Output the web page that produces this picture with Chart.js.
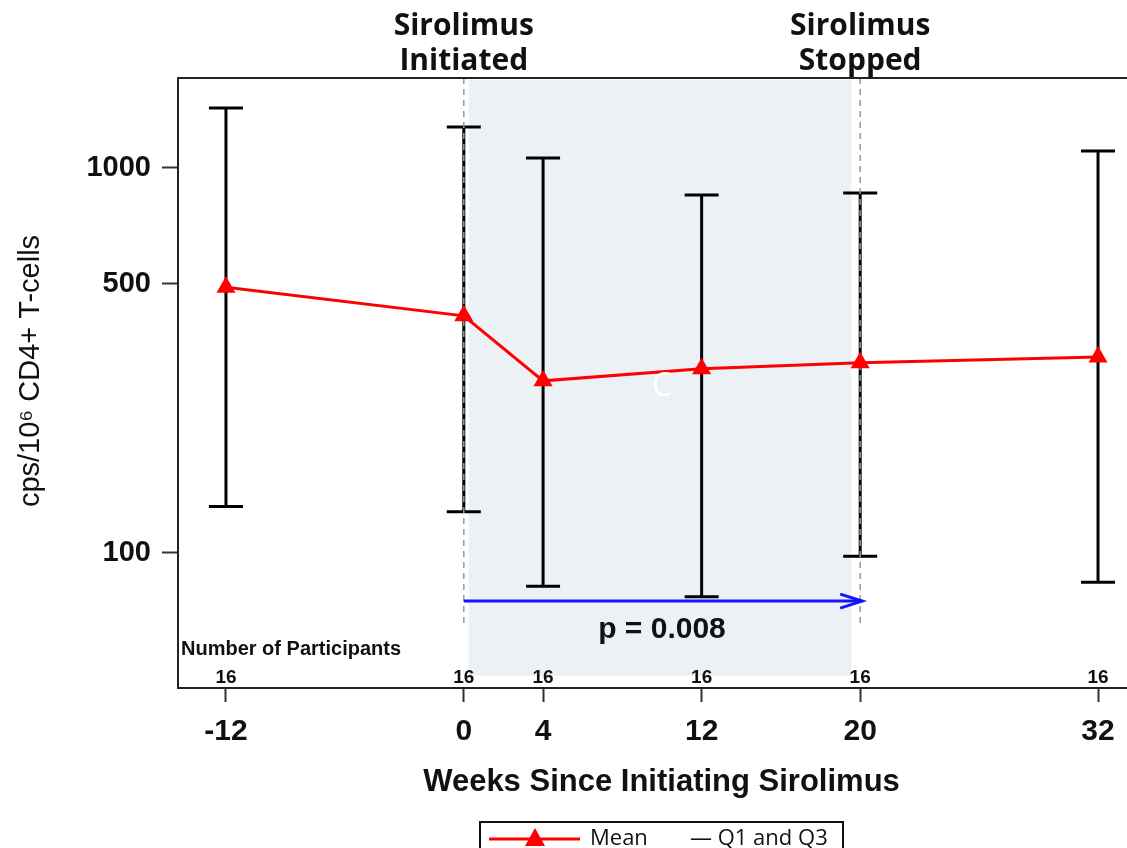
<!DOCTYPE html>
<html>
<head>
<meta charset="utf-8">
<script src="https://cdn.jsdelivr.net/npm/chart.js@4/dist/chart.umd.min.js"></script>
<style>
  html, body { margin: 0; padding: 0; overflow: hidden; background: #fff; }
  canvas { display: block; }
</style>
</head>
<body>
<canvas id="myChart" width="1145" height="848"></canvas>
<script>
// weeks since initiating sirolimus
var weeks = [-12, 0, 4, 12, 20, 32];
var meanValues = [490, 413, 280, 301, 312, 323];
var q1Values = [132, 128, 82, 77, 98, 84];
var q3Values = [1432, 1277, 1061, 851, 861, 1107];
var participants = [16, 16, 16, 16, 16, 16];
var yTickValues = [100, 500, 1000];
var xTickValues = [-12, 0, 4, 12, 20, 32];

var startWeek = 0, stopWeek = 20;
var pLabel = 'p = 0.008';

var arial = "'Liberation Sans', Arial, sans-serif";
var sans = "'Open Sans', 'Noto Sans', sans-serif";
var ink = '#111';

var extras = {
  id: 'extras',
  beforeDatasetsDraw: function(chart) {
    var c = chart.ctx, x = chart.scales.x, y = chart.scales.y, a = chart.chartArea;
    c.save();
    // treatment period shading
    c.fillStyle = '#ecf1f6';
    var x0 = x.getPixelForValue(startWeek + 0.25), x1 = x.getPixelForValue(stopWeek - 0.45);
    c.fillRect(x0, a.top + 2, x1 - x0, y.getPixelForValue(48) - a.top - 2);
    // Q1 / Q3 bars
    c.strokeStyle = '#000';
    c.lineWidth = 3;
    for (var i = 0; i < weeks.length; i++) {
      var px = x.getPixelForValue(weeks[i]);
      var top = y.getPixelForValue(q3Values[i]), bot = y.getPixelForValue(q1Values[i]);
      c.beginPath();
      c.moveTo(px, top); c.lineTo(px, bot);
      c.moveTo(px - 17, top); c.lineTo(px + 17, top);
      c.moveTo(px - 17, bot); c.lineTo(px + 17, bot);
      c.stroke();
    }
    // dashed markers
    c.strokeStyle = '#999';
    c.lineWidth = 1.5;
    c.setLineDash([6, 5]);
    [startWeek, stopWeek].forEach(function(w) {
      var px = x.getPixelForValue(w);
      c.beginPath();
      c.moveTo(px, a.top);
      c.lineTo(px, y.getPixelForValue(64));
      c.stroke();
    });
    c.setLineDash([]);
    c.restore();
  },
  afterDatasetsDraw: function(chart) {
    var c = chart.ctx, x = chart.scales.x, y = chart.scales.y, a = chart.chartArea;
    c.save();
    // arrow for the p value
    var ay = y.getPixelForValue(75);
    var ax0 = x.getPixelForValue(startWeek), ax1 = x.getPixelForValue(stopWeek) + 2;
    c.strokeStyle = '#1414ff';
    c.lineWidth = 3;
    c.beginPath();
    c.moveTo(ax0, ay); c.lineTo(ax1, ay);
    c.stroke();
    c.beginPath();
    c.moveTo(ax1 - 22, ay - 7); c.lineTo(ax1, ay); c.lineTo(ax1 - 22, ay + 7);
    c.stroke();

    c.fillStyle = ink;
    c.textAlign = 'center';
    c.textBaseline = 'alphabetic';
    c.font = 'bold 30px ' + arial;
    c.fillText(pLabel, x.getPixelForValue(10), ay + 37);

    // participants row
    c.font = 'bold 19px ' + arial;
    for (var i = 0; i < weeks.length; i++) {
      c.fillText(String(participants[i]), x.getPixelForValue(weeks[i]), a.bottom - 5);
    }
    c.textAlign = 'left';
    c.font = 'bold 20px ' + arial;
    c.fillText('Number of Participants', a.left + 3, a.bottom - 33);

    c.fillStyle = '#fff';
    c.textAlign = 'center';
    c.font = '32px ' + sans;
    c.fillText('C', x.getPixelForValue(10), y.getPixelForValue(280) + 15);
    c.restore();
  },
  afterDraw: function(chart) {
    var c = chart.ctx, x = chart.scales.x, a = chart.chartArea;
    c.save();
    // top frame line
    c.strokeStyle = '#222';
    c.lineWidth = 2;
    c.beginPath();
    c.moveTo(a.left, a.top); c.lineTo(a.right, a.top);
    c.stroke();

    // event labels above plot
    c.fillStyle = ink;
    c.textAlign = 'center';
    c.textBaseline = 'middle';
    c.font = 'bold 30px ' + sans;
    c.fillText('Sirolimus', x.getPixelForValue(startWeek), 26);
    c.fillText('Initiated', x.getPixelForValue(startWeek), 61);
    c.fillText('Sirolimus', x.getPixelForValue(stopWeek), 26);
    c.fillText('Stopped', x.getPixelForValue(stopWeek), 61);

    // y title
    c.save();
    c.translate(31, 371);
    c.rotate(-Math.PI / 2);
    c.font = '29px ' + arial;
    c.fillText('cps/10\u2076 CD4+ T-cells', 0, 0);
    c.restore();

    // legend
    c.strokeStyle = '#111';
    c.lineWidth = 2;
    c.strokeRect(480, 822, 363, 40);
    c.strokeStyle = 'red';
    c.lineWidth = 3;
    c.beginPath();
    c.moveTo(489, 839); c.lineTo(580, 839);
    c.stroke();
    c.fillStyle = 'red';
    c.beginPath();
    c.moveTo(535, 828); c.lineTo(545, 846); c.lineTo(525, 846);
    c.closePath();
    c.fill();
    c.fillStyle = ink;
    c.textAlign = 'left';
    c.textBaseline = 'alphabetic';
    c.font = '22px ' + sans;
    c.fillText('Mean', 590, 845);
    c.fillText('\u2014 Q1 and Q3', 690, 845);
    c.restore();
  }
};

var ctx = document.getElementById('myChart').getContext('2d');
var myChart = new Chart(ctx, {
  type: 'line',
  data: {
    datasets: [{
      label: 'Mean',
      data: weeks.map(function(w, i) { return {x: w, y: meanValues[i]}; }),
      borderColor: 'red',
      backgroundColor: 'red',
      borderWidth: 3,
      pointStyle: 'triangle',
      pointRadius: 11,
      pointBorderWidth: 0,
      pointBackgroundColor: 'red',
      tension: 0,
      fill: false
    }]
  },
  options: {
    responsive: false,
    animation: false,
    devicePixelRatio: 1,
    layout: { autoPadding: false, padding: { top: 78, left: 0, right: 0, bottom: 0 } },
    plugins: { legend: { display: false }, tooltip: { enabled: false } },
    scales: {
      x: {
        type: 'linear',
        min: -14.42,
        max: 34.37,
        afterFit: function(s) { s.height = 160; s.paddingLeft = 0; s.paddingRight = 0; },
        afterBuildTicks: function(s) { s.ticks = xTickValues.map(function(v) { return {value: v}; }); },
        grid: { drawOnChartArea: false, tickLength: 14, tickColor: '#333', tickWidth: 2 },
        border: { display: true, color: '#222', width: 2 },
        ticks: {
          padding: 12,
          color: ink,
          font: { family: arial, size: 30, weight: 'bold' },
          callback: function(v) { return String(v); }
        },
        title: {
          display: true,
          text: 'Weeks Since Initiating Sirolimus',
          color: ink,
          font: { family: arial, size: 31, weight: 'bold' },
          padding: { top: 0, bottom: 47 }
        }
      },
      y: {
        type: 'logarithmic',
        min: 44.6,
        max: 1713,
        afterFit: function(s) { s.width = 178; s.paddingTop = 0; s.paddingBottom = 0; },
        afterBuildTicks: function(s) { s.ticks = yTickValues.map(function(v) { return {value: v}; }); },
        grid: { drawOnChartArea: false, tickLength: 16, tickColor: '#333', tickWidth: 2 },
        border: { display: true, color: '#222', width: 2 },
        ticks: {
          padding: 11,
          color: ink,
          font: { family: arial, size: 29, weight: 'bold' },
          callback: function(v) { return String(v); }
        }
      }
    }
  },
  plugins: [extras]
});
</script>
</body>
</html>
